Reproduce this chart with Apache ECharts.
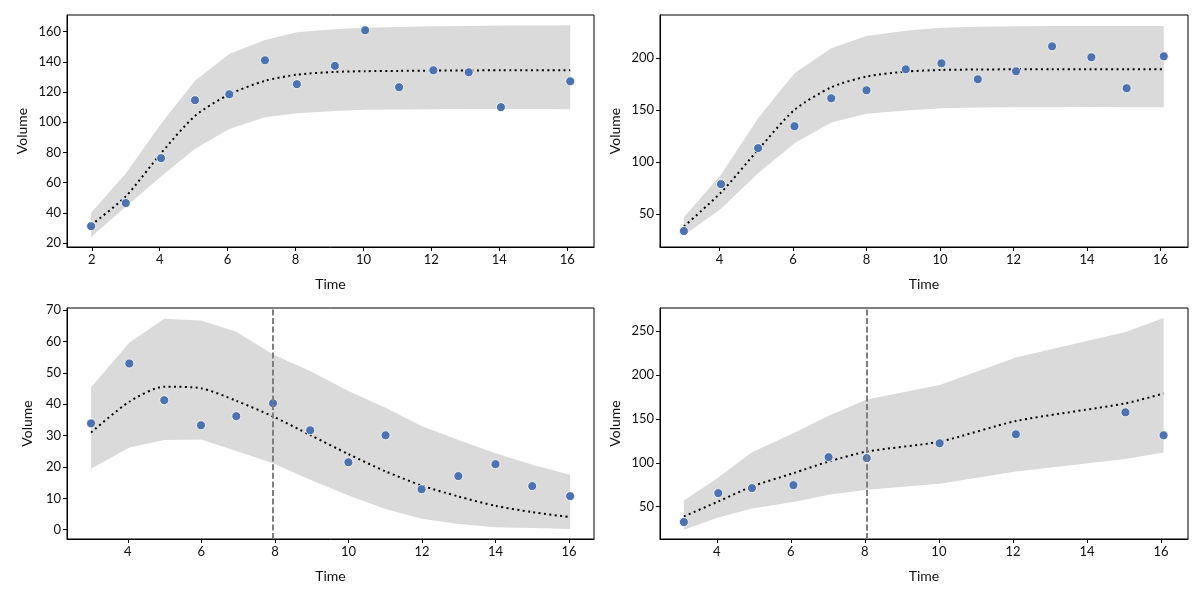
<!DOCTYPE html>
<html><head><meta charset="utf-8">
<script src="https://cdn.jsdelivr.net/npm/echarts@6/dist/echarts.min.js"></script>
<style>html,body{margin:0;padding:0;background:#fff}#c{width:1200px;height:600px}</style>
</head><body><div id="c"></div>
<script>
// Panel 1
const t1 = [1.98,3.0,4.04,5.04,6.05,7.1,8.04,9.16,10.05,11.05,12.06,13.1,14.05,16.09];
const v1 = [31.2,46.5,76.2,114.6,118.5,141,125.2,137.3,160.9,123.2,134.4,133.1,110,127.1];
const lo1 = [24,44,64,82.4,95.6,103.3,106,107.5,108.2,108.4,108.6,108.8,108.8,108.6];
const hi1 = [40,66,99,127.4,145.2,154.5,159.6,161.5,162.5,163,163.5,163.8,164,164.2];
const mean1 = [31.9,50.9,79.5,104.2,118.5,127.4,131.5,133.3,133.8,134,134.2,134.3,134.4,134.5];
// Panel 2
const t2 = [3.03,4.04,5.05,6.04,7.04,8.0,9.07,10.04,11.03,12.07,13.05,14.12,15.08,16.09];
const v2 = [33.7,78.8,113.5,134.6,161.5,169.2,189.4,195.2,179.8,187.5,211.5,201,171.2,201.9];
const lo2 = [29.7,55.1,89.4,118.3,138.1,146.5,149.7,151.9,152.6,152.8,152.9,153,152.9,152.9];
const hi2 = [47,87.8,142.3,185.6,209.6,221.5,226.6,229.5,230.4,230.8,231,231.2,231,231];
const mean2 = [38.1,70.8,111.9,150.3,172.1,182.4,187.2,188.8,189.2,189.4,189.4,189.4,189.4,189.4];
// Panel 3
const t3 = [3.0,4.04,4.99,5.99,6.95,7.95,8.96,10.0,11.01,11.99,12.99,14.0,15.0,16.03];
const v3 = [33.9,53.0,41.3,33.3,36.2,40.3,31.7,21.5,30.1,12.9,17.1,20.9,13.9,10.7];
const lo3 = [19.4,26.2,28.6,28.8,25.1,21.2,15.9,10.9,6.6,3.5,1.8,0.8,0.5,0.2];
const hi3 = [45.4,59.6,67.3,66.7,63.1,55.9,50.6,44.2,38.9,33.1,28.6,24.4,20.7,17.5];
const mean3 = [31.0,40.8,45.6,45.1,41.1,36.1,30.2,24.1,18.6,14.1,10.6,7.6,5.6,4.0];
const vline3 = 7.95;
// Panel 4
const t4 = [3.11,4.04,4.95,6.07,7.02,8.05,10.02,12.08,15.04,16.07];
const v4 = [32.6,65.5,71.2,74.6,106.4,105.3,122.2,132.4,157.4,131.3];
const lo4 = [23.9,37.9,48.1,55.3,63.6,69.3,76.1,90.1,104.4,111.6];
const hi4 = [57.2,83.3,112,133.5,153.6,172.1,188.4,219.8,248.9,264.7];
const mean4 = [39,56,73.1,88.2,101.4,112.8,124.1,147.5,167.6,178.9];
const vline4 = 8.05;

// Tick labels
const xTicks1 = [2,4,6,8,10,12,14,16];
const xTicks = [4,6,8,10,12,14,16];
const yTicks1 = [20,40,60,80,100,120,140,160];
const yTicks2 = [50,100,150,200];
const yTicks3 = [0,10,20,30,40,50,60,70];
const yTicks4 = [50,100,150,200,250];

const FONT = 'Lato,"Noto Sans",sans-serif';
const panels = [
  {t:t1,v:v1,lo:lo1,hi:hi1,mean:mean1,xt:xTicks1,yt:yTicks1,xr:[1.27,16.79],yr:[17.4,171],grid:{left:67,top:15,width:527,height:232}},
  {t:t2,v:v2,lo:lo2,hi:hi2,mean:mean2,xt:xTicks,yt:yTicks2,xr:[2.38,16.75],yr:[18.3,241.7],grid:{left:660,top:15,width:528,height:232}},
  {t:t3,v:v3,lo:lo3,hi:hi3,mean:mean3,xt:xTicks,yt:yTicks3,xr:[2.345,16.68],yr:[-2.97,70.7],grid:{left:67,top:308,width:527,height:231},vline:vline3},
  {t:t4,v:v4,lo:lo4,hi:hi4,mean:mean4,xt:xTicks,yt:yTicks4,xr:[2.465,16.73],yr:[13.3,276.1],grid:{left:660,top:308,width:528,height:231},vline:vline4}
];

const grids=[], xAxes=[], yAxes=[], series=[];
panels.forEach((p,i)=>{
  grids.push(Object.assign({show:true,borderColor:'#000',borderWidth:1,backgroundColor:'transparent'},p.grid));
  xAxes.push({type:'value',gridIndex:i,min:p.xr[0],max:p.xr[1],
    name:'Time',nameLocation:'middle',nameGap:30,nameTextStyle:{fontFamily:FONT,fontSize:14,color:'#111'},
    axisLine:{show:true,onZero:false,lineStyle:{color:'#000',width:1}},
    axisTick:{show:true,length:4,customValues:p.xt,lineStyle:{color:'#000'}},
    axisLabel:{customValues:p.xt,fontFamily:FONT,fontSize:13,color:'#111',margin:6},
    splitLine:{show:false}});
  yAxes.push({type:'value',gridIndex:i,min:p.yr[0],max:p.yr[1],
    name:'Volume',nameLocation:'middle',nameGap:(i===2?33:38),nameTextStyle:{fontFamily:FONT,fontSize:14,color:'#111'},
    axisLine:{show:true,onZero:false,lineStyle:{color:'#000',width:1}},
    axisTick:{show:true,length:4,customValues:p.yt,lineStyle:{color:'#000'}},
    axisLabel:{customValues:p.yt,fontFamily:FONT,fontSize:13,color:'#111',margin:6},
    splitLine:{show:false}});
  series.push({type:'custom',xAxisIndex:i,yAxisIndex:i,silent:true,z:1,clip:true,
    data:p.t.map((x,k)=>[x,p.lo[k],p.hi[k]]),
    encode:{x:0,y:[1,2]},
    renderItem:function(params,api){
      if(params.dataIndex!==0) return null;
      const pts=[];
      for(let k=0;k<p.t.length;k++) pts.push(api.coord([p.t[k],p.hi[k]]));
      for(let k=p.t.length-1;k>=0;k--) pts.push(api.coord([p.t[k],p.lo[k]]));
      return {type:'polygon',shape:{points:pts},style:{fill:'#dadada'}};
    }});
  const meanS={type:'line',xAxisIndex:i,yAxisIndex:i,symbol:'none',smooth:0.25,silent:true,
    lineStyle:{color:'#000',width:2,type:[2,3.4]},data:p.t.map((x,k)=>[x,p.mean[k]]),z:3};
  if(p.vline!==undefined){
    meanS.markLine={silent:true,symbol:'none',label:{show:false},
      lineStyle:{color:'#7f7f7f',width:2,type:[6,2.6]},data:[{xAxis:p.vline}]};
  }
  series.push(meanS);
  series.push({type:'scatter',xAxisIndex:i,yAxisIndex:i,symbolSize:9,silent:true,
    itemStyle:{color:'#4c72b0',borderColor:'#fff',borderWidth:0.8,opacity:1},data:p.t.map((x,k)=>[x,p.v[k]]),z:4});
});

const chart=echarts.init(document.getElementById('c'),null,{renderer:'canvas'});
chart.setOption({animation:false,backgroundColor:'#fff',grid:grids,xAxis:xAxes,yAxis:yAxes,series:series});
</script></body></html>
